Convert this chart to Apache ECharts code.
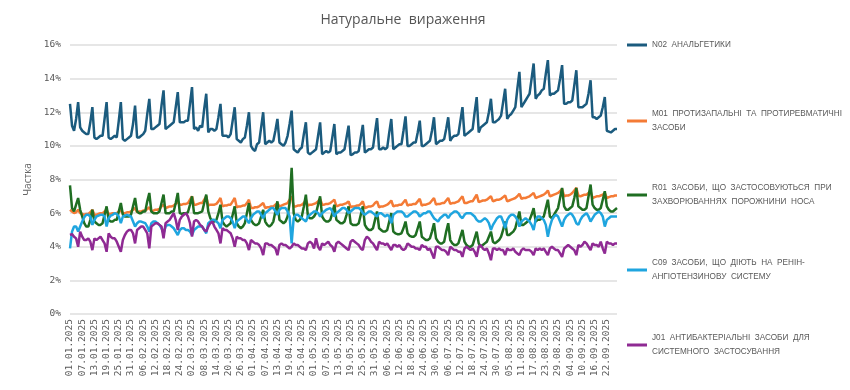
<!DOCTYPE html>
<html>
<head>
<meta charset="utf-8">
<script src="https://cdn.jsdelivr.net/npm/echarts@6/dist/echarts.min.js"></script>
<style>html,body{margin:0;padding:0;background:#fff}#c{width:850px;height:390px}</style>
</head>
<body>
<div id="c"></div>
<script>
// Daily shares (%), 01.01.2025 (Wed) .. 27.09.2025; one row per week (Mon..Sun)
const N02 = [
12.5,11.2,10.9,11.6,12.6,
11.1,10.9,10.8,10.7,10.7,11.4,12.3,
10.5,10.4,10.5,10.6,10.6,11.6,12.6,
10.5,10.4,10.5,10.6,10.5,11.5,12.6,
10.4,10.3,10.4,10.5,10.6,11.3,12.4,
10.5,10.5,10.6,10.7,10.9,11.9,12.8,
11.0,11.0,11.1,11.2,11.3,12.4,13.3,
11.0,11.1,11.2,11.3,11.4,12.3,13.2,
11.4,11.4,11.4,11.5,11.5,12.5,13.5,
11.0,11.1,10.9,11.2,11.1,12.2,13.1,
10.8,11.0,11.0,10.9,11.0,11.7,12.5,
10.6,10.6,10.6,10.5,10.7,11.5,12.3,
10.4,10.3,10.2,10.4,10.5,11.2,12.0,
10.0,9.8,9.7,10.1,10.2,11.1,12.0,
10.1,10.2,10.3,10.2,10.3,10.9,11.6,
10.2,10.1,10.0,10.2,10.6,11.3,12.1,
9.8,9.7,9.6,9.8,9.9,10.7,11.4,
9.6,9.5,9.6,9.7,9.8,10.6,11.4,
9.5,9.6,9.7,9.6,9.7,10.5,11.3,
9.5,9.6,9.6,9.7,9.8,10.5,11.2,
9.45,9.5,9.6,9.6,9.7,10.5,11.25,
9.6,9.7,9.8,9.8,9.9,10.8,11.65,
9.8,9.8,9.9,9.8,9.9,10.8,11.6,
9.8,9.9,10.0,10.1,10.1,10.9,11.75,
10.0,10.0,10.1,10.2,10.2,10.8,11.5,
10.0,10.0,10.1,10.2,10.3,10.9,11.7,
10.1,10.2,10.3,10.3,10.4,11.0,11.7,
10.3,10.5,10.6,10.6,10.7,11.5,12.3,
10.6,10.7,10.8,10.9,11.0,12.0,12.9,
10.8,11.1,11.2,11.3,11.4,12.0,12.8,
11.4,11.4,11.5,11.6,11.8,12.6,13.4,
11.6,11.8,11.9,12.1,12.3,13.4,14.4,
12.3,12.5,12.7,12.9,13.1,14.0,14.9,
12.8,13.0,13.1,13.3,13.4,14.3,15.1,
13.0,13.1,13.1,13.2,13.3,14.0,14.8,
12.5,12.5,12.6,12.6,12.7,13.6,14.5,
12.3,12.3,12.3,12.4,12.5,13.1,13.9,
11.7,11.7,11.6,11.7,11.8,12.3,12.9,
10.9,10.85,10.8,10.9,11.0,11.0
];
const M01 = [
6.2,6.1,6.0,6.05,6.2,
6.0,5.95,5.9,5.95,5.95,6.05,6.2,
5.9,5.9,5.95,6.0,6.0,6.1,6.2,
5.95,5.95,6.0,6.0,6.0,6.1,6.15,
6.0,6.0,6.05,6.05,6.1,6.2,6.3,
6.05,6.1,6.1,6.15,6.15,6.25,6.35,
6.1,6.15,6.2,6.2,6.25,6.4,6.5,
6.3,6.35,6.4,6.4,6.45,6.55,6.7,
6.5,6.5,6.55,6.55,6.6,6.8,7.0,
6.5,6.5,6.55,6.6,6.6,6.8,7.0,
6.45,6.5,6.5,6.5,6.55,6.7,6.9,
6.4,6.45,6.45,6.5,6.5,6.7,6.9,
6.35,6.4,6.4,6.45,6.45,6.6,6.8,
6.3,6.3,6.35,6.35,6.4,6.5,6.6,
6.3,6.35,6.35,6.4,6.4,6.5,6.6,
6.4,6.45,6.5,6.55,6.6,6.8,7.0,
6.4,6.4,6.45,6.45,6.5,6.6,6.8,
6.45,6.5,6.5,6.55,6.6,6.7,6.85,
6.5,6.5,6.55,6.55,6.6,6.7,6.8,
6.4,6.45,6.5,6.5,6.55,6.6,6.7,
6.35,6.4,6.4,6.45,6.45,6.55,6.7,
6.3,6.35,6.4,6.4,6.45,6.6,6.7,
6.35,6.4,6.4,6.45,6.5,6.6,6.75,
6.4,6.45,6.45,6.5,6.5,6.65,6.8,
6.45,6.5,6.5,6.55,6.55,6.7,6.85,
6.45,6.5,6.5,6.55,6.6,6.75,6.9,
6.5,6.55,6.55,6.6,6.6,6.75,6.9,
6.55,6.6,6.6,6.65,6.7,6.85,7.0,
6.6,6.6,6.65,6.7,6.7,6.9,7.1,
6.65,6.7,6.75,6.75,6.8,6.9,7.0,
6.7,6.75,6.8,6.8,6.85,6.95,7.05,
6.7,6.75,6.8,6.85,6.9,7.0,7.15,
6.85,6.9,6.9,6.95,7.0,7.1,7.2,
6.9,6.95,7.0,7.05,7.1,7.2,7.35,
7.0,7.05,7.1,7.15,7.2,7.3,7.45,
7.0,7.05,7.05,7.1,7.2,7.35,7.5,
7.05,7.0,7.05,7.1,7.1,7.2,7.3,
6.9,6.95,7.0,7.0,7.05,7.1,7.2,
6.9,6.95,7.0,7.0,7.05,7.05
];
const R01 = [
7.65,6.3,6.1,6.5,6.9,
6.2,5.8,5.4,5.2,5.2,5.6,6.2,
5.5,5.4,5.3,5.3,5.4,5.9,6.4,
5.6,5.5,5.5,5.6,5.6,6.1,6.6,
5.9,5.8,5.8,5.8,5.9,6.4,6.9,
6.1,6.0,6.0,6.1,6.1,6.7,7.2,
6.1,6.0,6.0,6.0,6.1,6.6,7.1,
6.0,6.0,6.0,6.1,6.1,6.6,7.2,
6.0,5.95,6.0,6.0,6.05,6.5,7.0,
6.0,6.0,6.0,6.05,6.1,6.6,7.1,
6.1,5.7,5.5,5.5,5.6,6.0,6.5,
5.5,5.3,5.2,5.3,5.4,5.9,6.4,
5.4,5.2,5.1,5.2,5.4,6.0,6.6,
5.6,5.4,5.3,5.3,5.4,5.8,6.2,
5.5,5.3,5.2,5.3,5.5,6.1,6.7,
5.6,5.5,5.4,5.5,5.8,6.6,8.7,
6.0,5.6,5.5,5.6,5.8,6.4,7.1,
5.8,5.7,5.7,5.8,6.0,6.5,7.0,
5.8,5.6,5.5,5.5,5.6,6.0,6.5,
5.6,5.5,5.4,5.4,5.5,5.9,6.4,
5.4,5.3,5.3,5.3,5.4,5.9,6.4,
5.3,5.1,5.0,5.0,5.1,5.6,6.1,
5.1,5.0,4.9,4.9,5.0,5.5,6.0,
4.9,4.8,4.75,4.75,4.8,5.1,5.5,
4.8,4.65,4.6,4.6,4.7,5.1,5.5,
4.6,4.5,4.4,4.4,4.5,4.9,5.4,
4.5,4.3,4.2,4.2,4.3,4.9,5.4,
4.4,4.2,4.1,4.1,4.2,4.6,5.0,
4.3,4.1,4.0,4.0,4.1,4.5,4.9,
4.2,4.0,4.1,4.2,4.3,4.6,4.9,
4.3,4.2,4.3,4.4,4.6,5.0,5.5,
4.7,4.7,4.8,4.9,5.1,5.6,6.1,
5.3,5.3,5.4,5.5,5.6,5.9,6.3,
5.5,5.6,5.6,5.7,5.8,6.3,6.8,
5.8,5.7,5.9,6.1,6.3,6.9,7.5,
6.4,6.2,6.2,6.3,6.4,6.9,7.5,
6.4,6.3,6.2,6.2,6.3,7.0,7.7,
6.5,6.3,6.2,6.2,6.3,6.8,7.3,
6.4,6.2,6.1,6.1,6.2,6.3
];
const C09 = [
3.9,4.9,5.2,5.2,4.9,
5.2,5.5,5.75,5.9,5.9,5.8,5.3,
5.6,5.8,5.85,5.9,5.9,5.8,5.2,
5.7,5.85,5.9,6.0,5.95,5.8,5.4,
5.8,5.85,5.9,5.85,5.8,5.5,5.2,
5.4,5.5,5.5,5.45,5.4,5.2,4.9,
5.4,5.5,5.5,5.4,5.3,5.1,4.8,
5.2,5.3,5.3,5.2,5.1,4.9,4.7,
5.0,5.1,5.1,5.0,5.0,4.9,4.7,
5.0,5.1,5.2,5.2,5.2,5.0,4.8,
5.4,5.5,5.6,5.6,5.5,5.4,5.1,
5.6,5.7,5.8,5.8,5.7,5.5,5.1,
5.5,5.6,5.7,5.8,5.8,5.6,5.4,
5.7,5.9,6.0,6.1,6.1,5.9,5.7,
6.0,6.1,6.2,6.3,6.3,6.1,5.9,
6.2,6.3,6.3,6.3,6.1,5.8,4.2,
5.7,5.9,5.9,5.8,5.7,5.6,5.5,
5.8,5.9,6.0,6.1,6.1,6.0,5.8,
6.0,6.1,6.2,6.25,6.3,6.1,5.8,
6.0,6.1,6.2,6.3,6.3,6.2,6.0,
6.1,6.2,6.3,6.3,6.3,6.2,6.0,
5.9,6.0,6.1,6.1,6.0,5.9,5.8,
6.0,6.0,5.9,5.8,5.9,5.8,5.4,
5.9,6.0,6.1,6.1,6.1,6.0,5.8,
5.8,5.9,6.0,6.1,6.1,6.0,5.8,
5.9,6.0,6.0,6.1,6.1,5.9,5.7,
5.6,5.5,5.7,5.8,5.9,5.9,5.7,
5.9,6.0,6.1,6.1,6.0,5.8,5.7,
5.9,6.0,6.0,6.0,5.9,5.8,5.6,
5.5,5.5,5.6,5.7,5.6,5.4,5.0,
5.3,5.5,5.7,5.8,5.8,5.5,5.1,
5.6,5.8,5.9,5.9,5.8,5.6,5.2,
5.5,5.6,5.7,5.6,5.5,5.3,5.0,
5.6,5.8,5.8,5.7,5.6,5.3,4.6,
5.2,5.6,5.8,5.9,5.8,5.5,5.2,
5.6,5.8,5.9,6.0,5.9,5.7,5.4,
5.3,5.6,5.8,5.9,6.0,5.8,5.5,
5.7,5.9,6.0,6.1,6.0,5.8,5.2,
5.6,5.7,5.8,5.8,5.8,5.8
];
const J01 = [
4.7,4.75,4.6,4.5,4.0,
4.9,4.6,4.4,4.4,4.5,4.3,3.8,
4.5,4.4,4.5,4.6,4.4,4.2,3.7,
4.8,4.6,4.5,4.5,4.3,4.0,3.7,
4.4,4.7,4.9,5.0,5.0,4.8,4.2,
5.0,5.1,5.2,5.2,5.0,4.8,3.9,
5.2,5.3,5.4,5.4,5.3,5.2,4.5,
5.4,5.5,5.6,5.8,6.0,5.6,5.0,
5.6,5.8,5.9,6.0,5.8,5.4,4.6,
5.5,5.6,5.5,5.3,5.2,5.0,4.9,
5.2,5.4,5.5,5.2,5.0,4.8,4.2,
5.1,5.0,5.0,4.9,4.8,4.5,4.0,
4.6,4.5,4.5,4.4,4.4,4.2,3.8,
4.4,4.3,4.2,4.2,4.1,3.9,3.5,
4.2,4.2,4.1,4.1,4.0,3.9,3.5,
4.1,4.2,4.1,4.1,4.0,3.9,4.0,
4.2,4.1,4.1,4.0,3.9,3.9,3.8,
4.2,4.3,4.2,3.9,4.5,4.0,3.8,
4.2,4.1,4.2,4.3,4.1,4.0,3.7,
4.2,4.3,4.2,4.1,4.0,3.9,3.8,
4.3,4.4,4.3,4.2,4.1,3.9,3.8,
4.4,4.6,4.5,4.3,4.2,4.0,3.8,
4.3,4.2,4.2,4.1,4.2,4.0,3.8,
4.1,4.1,4.0,4.1,3.9,3.8,3.9,
4.2,4.1,4.0,4.0,3.9,3.9,3.8,
4.1,4.0,4.0,3.8,3.9,3.6,3.3,
4.0,4.0,3.9,3.8,3.8,3.7,3.5,
4.0,3.9,3.8,3.8,3.7,3.7,3.4,
3.9,4.0,3.9,3.8,3.9,3.7,3.4,
4.0,4.1,3.9,3.8,3.9,3.6,3.2,
3.9,3.9,3.8,3.9,3.8,3.8,3.5,
3.9,3.8,3.8,3.9,3.7,3.6,3.5,
3.8,3.9,3.8,3.8,3.8,3.7,3.5,
3.9,3.8,3.9,3.8,3.9,3.7,3.5,
3.9,4.0,3.9,3.8,3.8,3.6,3.4,
3.9,4.0,4.1,4.0,3.9,3.8,3.5,
4.1,4.0,4.1,4.3,4.2,4.0,3.8,
4.2,4.1,4.1,4.0,4.3,3.9,3.6,
4.3,4.2,4.2,4.1,4.2,4.2
];
const seriesNames = [
  'N02 АНАЛЬГЕТИКИ',
  'M01 ПРОТИЗАПАЛЬНІ ТА ПРОТИРЕВМАТИЧНІ ЗАСОБИ',
  'R01 ЗАСОБИ, ЩО ЗАСТОСОВУЮТЬСЯ ПРИ ЗАХВОРЮВАННЯХ ПОРОЖНИНИ НОСА',
  'C09 ЗАСОБИ, ЩО ДІЮТЬ НА РЕНІН-АНГІОТЕНЗИНОВУ СИСТЕМУ',
  'J01 АНТИБАКТЕРІАЛЬНІ ЗАСОБИ ДЛЯ СИСТЕМНОГО ЗАСТОСУВАННЯ'
];
const legendLabels = [
  'N02  АНАЛЬГЕТИКИ',
  'M01  ПРОТИЗАПАЛЬНІ  ТА  ПРОТИРЕВМАТИЧНІ\nЗАСОБИ',
  'R01  ЗАСОБИ,  ЩО  ЗАСТОСОВУЮТЬСЯ  ПРИ\nЗАХВОРЮВАННЯХ  ПОРОЖНИНИ  НОСА',
  'C09  ЗАСОБИ,  ЩО  ДІЮТЬ  НА  РЕНІН-\nАНГІОТЕНЗИНОВУ  СИСТЕМУ',
  'J01  АНТИБАКТЕРІАЛЬНІ  ЗАСОБИ  ДЛЯ\nСИСТЕМНОГО  ЗАСТОСУВАННЯ'
];
const yTicks = [0, 2, 4, 6, 8, 10, 12, 14, 16];
const colors = ['#1b5b7e', '#f47b36', '#1f6e22', '#1fa5df', '#8f2a93'];
const seriesData = [N02, M01, R01, C09, J01];

// date categories
const dates = [];
const t0 = Date.UTC(2025, 0, 1);
for (let i = 0; i < N02.length; i++) {
  const d = new Date(t0 + i * 86400000);
  const dd = String(d.getUTCDate()).padStart(2, '0');
  const mm = String(d.getUTCMonth() + 1).padStart(2, '0');
  dates.push(dd + '.' + mm + '.' + d.getUTCFullYear());
}

const legendTops = [38, 100, 174, 249, 324];
const chart = echarts.init(document.getElementById('c'), null, {renderer: 'canvas'});
const option = {
  animation: false,
  title: {
    text: 'Натуральне  вираження',
    left: 398, top: 8, textAlign: 'center',
    textStyle: {fontFamily: 'Open Sans', fontSize: 14, fontWeight: 'normal', color: '#555'}
  },
  grid: {left: 70, right: 233, top: 45, bottom: 76, containLabel: false},
  legend: seriesNames.map((n, i) => ({
    data: [n], left: 627, top: legendTops[i], orient: 'vertical', padding: 0,
    icon: 'rect', itemWidth: 20, itemHeight: 3, selectedMode: false,
    formatter: () => legendLabels[i],
    textStyle: {
      fontFamily: 'Liberation Sans', fontSize: 8.2, color: '#595959', lineHeight: 14,
      padding: legendLabels[i].indexOf('\n') >= 0 ? [14, 0, 0, 0] : 0
    }
  })),
  xAxis: {
    type: 'category', boundaryGap: false, data: dates,
    axisLine: {show: false}, axisTick: {show: false},
    axisLabel: {interval: 5, rotate: 90, margin: 5, fontFamily: 'DejaVu Sans Mono', fontSize: 9.5, color: '#595959'}
  },
  yAxis: {
    type: 'value', min: yTicks[0], max: yTicks[yTicks.length - 1], interval: 2,
    name: 'Частка', nameLocation: 'middle', nameGap: 30,
    nameTextStyle: {fontFamily: 'Open Sans', fontSize: 10, color: '#666'},
    axisLine: {show: false}, axisTick: {show: false},
    axisLabel: {formatter: '{value}%', margin: 9, fontFamily: 'DejaVu Sans Mono', fontSize: 9.5, color: '#595959'},
    splitLine: {lineStyle: {color: '#dedede', width: 1.5}}
  },
  series: seriesNames.map((n, i) => ({
    name: n, type: 'line', data: seriesData[i], showSymbol: false, symbol: 'none',
    lineStyle: {width: 2.5, color: colors[i]}, itemStyle: {color: colors[i]}
  }))
};
chart.setOption(option);
</script>
</body>
</html>
